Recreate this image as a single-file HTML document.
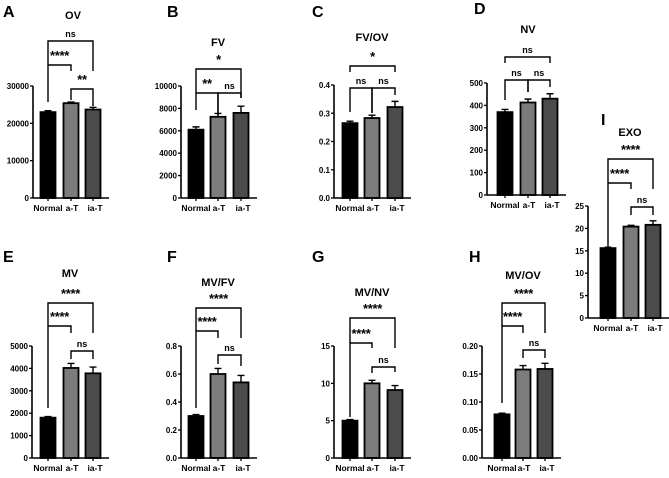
<!DOCTYPE html>
<html><head><meta charset="utf-8"><style>
body{margin:0;background:#fff}
svg text{font-family:"Liberation Sans",Arial,sans-serif;font-weight:bold}
</style></head><body>
<svg id="fig" width="669" height="473" viewBox="0 0 669 473" xmlns="http://www.w3.org/2000/svg"></svg>
<script>
const groups=["Normal","a-T","ia-T"];
const titles=["OV","FV","FV/OV","NV","MV","MV/FV","MV/NV","MV/OV","EXO"];
const letters=["A","B","C","D","E","F","G","H","I"];
const meansA=[23000,25400,23700], errA=[400,300,600];
const meansB=[6100,7250,7600], errB=[250,300,600];
const meansC=[0.265,0.283,0.322], errC=[0.007,0.01,0.02];
const meansD=[370,413,430], errD=[12,15,22];
const meansE=[1800,4020,3780], errE=[50,200,280];
const meansF=[0.30,0.60,0.54], errF=[0.01,0.04,0.05];
const meansG=[5,10,9.1], errG=[0.15,0.4,0.6];
const meansH=[0.078,0.158,0.159], errH=[0.002,0.007,0.01];
const meansI=[15.6,20.4,20.8], errI=[0.2,0.3,0.9];
const ticksA=[0,10000,20000,30000], ticksB=[0,2000,4000,6000,8000,10000], ticksC=[0,0.1,0.2,0.3,0.4];
const ticksD=[0,100,200,300,400,500], ticksE=[0,1000,2000,3000,4000,5000], ticksF=[0,0.2,0.4,0.6,0.8];
const ticksG=[0,5,10,15], ticksH=[0,0.05,0.10,0.15,0.20], ticksI=[0,5,10,15,20,25];
const tickFmtA=["0","10000","20000","30000"],tickFmtC=["0.0","0.1","0.2","0.3","0.4"],tickFmtF=["0.0","0.2","0.4","0.6","0.8"],tickFmtH=["0.00","0.05","0.10","0.15","0.20"];
const sigA=["****","ns","**"],sigB=["**","*","ns"],sigC=["ns","*","ns"],sigD=["ns","ns","ns"];
const sigE=["****","****","ns"],sigF=["****","****","ns"],sigG=["****","****","ns"],sigH=["****","****","ns"],sigI=["****","****","ns"];
const P=[
 {m:meansA,e:errA,t:ticksA,f:tickFmtA,s:sigA,ax:33,yt:86,y0:198,bx:[48,71,93],tx:73,ty:19,lx:3,ly:17,br:[[65,102,71],[41,65,71],[89,100,106]]},
 {m:meansB,e:errB,t:ticksB,f:null,s:sigB,ax:181,yt:86,y0:198,bx:[196,218,241],tx:218,ty:46,lx:167,ly:17,br:[[93,110,115],[69,93,98],[93,115,98]]},
 {m:meansC,e:errC,t:ticksC,f:tickFmtC,s:sigC,ax:334,yt:85,y0:198,bx:[350,372,395],tx:372,ty:41,lx:312,ly:17,br:[[88,112,113],[66,72,72],[88,113,95]]},
 {m:meansD,e:errD,t:ticksD,f:null,s:sigD,ax:487,yt:83,y0:195,bx:[505,528,550],tx:528,ty:33,lx:474,ly:14,br:[[80,100,92],[57,63,63],[80,92,87]]},
 {m:meansE,e:errE,t:ticksE,f:null,s:sigE,ax:32,yt:346,y0:458,bx:[48,71,93],tx:70,ty:277,lx:3,ly:262,br:[[326,408,333],[303,326,333],[351,359,359]]},
 {m:meansF,e:errF,t:ticksF,f:tickFmtF,s:sigF,ax:181,yt:346,y0:458,bx:[196,218,241],tx:218,ty:286,lx:167,ly:262,br:[[331,408,338],[308,331,338],[355,364,366]]},
 {m:meansG,e:errG,t:ticksG,f:null,s:sigG,ax:334,yt:346,y0:458,bx:[350,372,395],tx:372,ty:296,lx:312,ly:262,br:[[343,417,348],[318,343,348],[367,373,372]]},
 {m:meansH,e:errH,t:ticksH,f:tickFmtH,s:sigH,ax:482,yt:346,y0:458,bx:[502,523,545],tx:523,ty:279,lx:469,ly:262,br:[[326,403,333],[303,326,333],[350,358,358]]},
 {m:meansI,e:errI,t:ticksI,f:null,s:sigI,ax:588,yt:206,y0:318,bx:[608,631,653],tx:630,ty:136,lx:601,ly:125,br:[[183,247,189],[159,183,189],[207,215,215]]}
];
const pairs=[[0,1],[0,2],[1,2]];
const fills=["#000","#7c7c7c","#4b4b4b"];
const svg=document.getElementById('fig');
const NS="http://www.w3.org/2000/svg";
function mk(tag,at,parent){const el=document.createElementNS(NS,tag);for(const k in at)el.setAttribute(k,at[k]);(parent||svg).appendChild(el);return el;}
P.forEach((p,pi)=>{
 const g=mk('g',{});
 
 
 const ymax=p.t[p.t.length-1];
 const Y=v=>p.y0-(v/ymax)*(p.y0-p.yt);
 const L=mk('text',{x:p.lx,y:p.ly,'font-size':16},g);L.textContent=letters[pi];
 
 
 const T=mk('text',{x:p.tx,y:p.ty,'font-size':11,'text-anchor':'middle'},g);T.textContent=titles[pi];
 
 
 const bw=15;
 p.m.forEach((v,i)=>{
  const r=mk('rect',{x:p.bx[i]-bw/2,y:Y(v),width:bw,height:p.y0-Y(v),fill:fills[i],stroke:'#000','stroke-width':1.8},g);
  
  
  const eb=mk('path',{d:`M${p.bx[i]} ${Y(v)}V${Y(v+p.e[i])}M${p.bx[i]-3.5} ${Y(v+p.e[i])}H${p.bx[i]+3.5}`,stroke:'#000','stroke-width':1.4,fill:'none'},g);
  
  
  const xl=mk('text',{x:p.bx[i]+(i==0?0:i==1?1:2),y:p.y0+13,'font-size':8.5,'text-anchor':'middle'},g);xl.textContent=groups[i];
  
  
  mk('line',{x1:p.bx[i],x2:p.bx[i],y1:p.y0,y2:p.y0+3,stroke:'#000','stroke-width':1.3},g);
 });
 const ya=mk('line',{x1:p.ax,x2:p.ax,y1:p.yt,y2:p.y0,stroke:'#000','stroke-width':1.6},g);
 
 
 const xa=mk('line',{x1:p.ax,x2:Math.min(p.bx[2]+16,669),y1:p.y0,y2:p.y0,stroke:'#000','stroke-width':1.6},g);
 
 
 p.t.forEach((tv,ti)=>{
  mk('line',{x1:p.ax-3,x2:p.ax,y1:Y(tv),y2:Y(tv),stroke:'#000','stroke-width':1.3},g);
  const tl=mk('text',{x:p.ax-4,y:Y(tv)+3,'font-size':8,'text-anchor':'end'},g);
  tl.textContent=p.f?p.f[ti]:String(tv);
  
  
 });
 pairs.forEach((pr,k)=>{
  const [top,lb,rb]=p.br[k];const x1=p.bx[pr[0]],x2=p.bx[pr[1]];
  const b=mk('path',{d:`M${x1} ${lb}V${top}H${x2}V${rb}`,stroke:'#000','stroke-width':1.4,fill:'none'},g);
  
  
  const st=p.s[k];
  const ns=st=='ns';
  const s=mk('text',{x:(x1+x2)/2,y:ns?top-4:top-1,'font-size':ns?9:13,'font-weight':ns?'normal':'bold','text-anchor':'middle','letter-spacing':ns?0:-0.3,'dominant-baseline':ns?'auto':'text-after-edge'},g);
  if(!ns){s.removeAttribute('dominant-baseline');s.setAttribute('y',top-5);}
  s.textContent=st;
  
  
 });
});
</script>
</body></html>
